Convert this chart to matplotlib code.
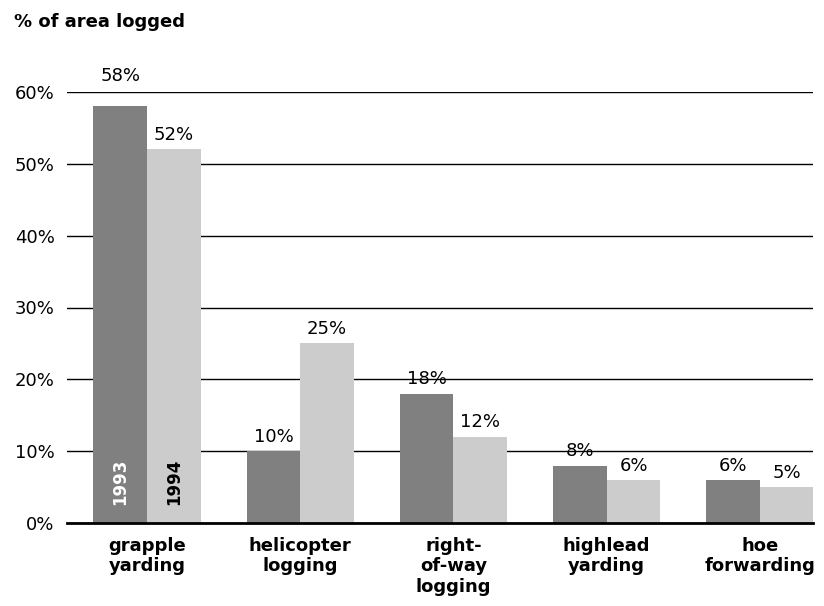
import matplotlib

matplotlib.use("Agg")
import matplotlib.pyplot as plt
import numpy as np

categories = ["grapple\nyarding", "helicopter\nlogging", "right-\nof-way\nlogging",
              "highlead\nyarding", "hoe\nforwarding"]
pct_1993 = [58, 10, 18, 8, 6]
pct_1994 = [52, 25, 12, 6, 5]
yticks = [0, 10, 20, 30, 40, 50, 60]

plt.rcParams["font.family"] = ["DejaVu Sans"]

fig = plt.figure(figsize=(8.24, 6.06), dpi=100)
ax = fig.add_axes([67 / 824, 1 - 523 / 606, (813 - 67) / 824, (523 - 92) / 606])

x = np.arange(len(categories))
w = 0.35
dark = "#808080"
light = "#cccccc"
b1 = ax.bar(x - w / 2, pct_1993, w, color=dark, zorder=3)
b2 = ax.bar(x + w / 2, pct_1994, w, color=light, zorder=3)

ymax = yticks[-1]
for bars, vals in ((b1, pct_1993), (b2, pct_1994)):
    for r, v in zip(bars, vals):
        # labels that would hit the top gridline go above it
        ypos = v + 1.3 if v + 4 < ymax else ymax + 1.5
        ax.text(r.get_x() + r.get_width() / 2, ypos, f"{v}%",
                ha="center", va="baseline", fontsize=13)

ax.text(x[0] - w / 2, 2.5, "1993", rotation=90, ha="center", va="bottom",
        color="white", fontsize=12, fontweight="bold", zorder=4)
ax.text(x[0] + w / 2, 2.5, "1994", rotation=90, ha="center", va="bottom",
        color="black", fontsize=12, fontweight="bold", zorder=4)

ax.set_ylim(0, ymax)
ax.set_xlim(-0.522, 4.346)
ax.set_yticks(yticks)
ax.set_yticklabels([f"{t}%" for t in yticks], fontsize=13)
ax.set_xticks(x)
ax.set_xticklabels(categories, fontsize=13, fontweight="bold", linespacing=1.17)
ax.tick_params(axis="both", length=0)
ax.tick_params(axis="y", pad=9)
ax.tick_params(axis="x", pad=10)
ax.yaxis.grid(True, color="black", linewidth=1.0, zorder=0)
ax.set_axisbelow(True)
for s in ("top", "right", "left"):
    ax.spines[s].set_visible(False)
ax.spines["bottom"].set_linewidth(2)
ax.spines["bottom"].set_zorder(5)

fig.text(14 / 824, 1 - 22 / 606, "% of area logged", fontsize=13,
         fontweight="bold", ha="left", va="center")

fig.savefig("out.png", dpi=100)
